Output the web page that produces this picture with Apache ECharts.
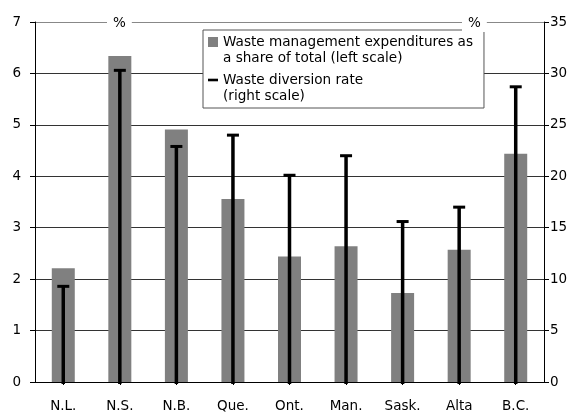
<!DOCTYPE html>
<html>
<head>
<meta charset="utf-8">
<script src="https://cdn.jsdelivr.net/npm/echarts@6/dist/echarts.min.js"></script>
<style>html,body{margin:0;padding:0;background:#fff}#c{width:577px;height:412px}</style>
</head>
<body>
<div id="c"></div>
<script>
const categories = ['N.L.', 'N.S.', 'N.B.', 'Que.', 'Ont.', 'Man.', 'Sask.', 'Alta', 'B.C.'];
const expenditureShare = [2.21, 6.34, 4.91, 3.56, 2.44, 2.64, 1.73, 2.57, 4.44];
const diversionRate = [9.3, 30.3, 22.9, 24.0, 20.1, 22.0, 15.6, 17.0, 28.7];
const leftTicks = [0, 1, 2, 3, 4, 5, 6, 7];
const rightTicks = [0, 5, 10, 15, 20, 25, 30, 35];
const barName = 'Waste management expenditures as\na share of total (left scale)';
const lineName = 'Waste diversion rate\n(right scale)';

const FONT = 'DejaVu Sans';
const chart = echarts.init(document.getElementById('c'), null, {renderer: 'canvas'});
const gridColors = ['#333', '#333', '#333', '#333', '#333', '#333', '#333', '#888'];
chart.setOption({
  animation: false,
  textStyle: {fontFamily: FONT},
  grid: {left: 35, right: 33, top: 22, bottom: 30, containLabel: false, outerBoundsMode: 'none'},
  xAxis: {
    type: 'category',
    data: categories,
    axisLine: {lineStyle: {color: '#000', width: 1}},
    axisTick: {show: true, alignWithLabel: true, length: 3, lineStyle: {color: '#000'}},
    axisLabel: {color: '#000', fontSize: 13.5, margin: 17, fontFamily: FONT}
  },
  yAxis: [{
    type: 'value', min: leftTicks[0], max: leftTicks[leftTicks.length - 1], interval: 1,
    axisLine: {show: true, lineStyle: {color: '#000'}},
    axisTick: {show: true, length: 5, lineStyle: {color: '#000'}},
    axisLabel: {color: '#000', fontSize: 13.5, margin: 14, fontFamily: FONT},
    splitLine: {show: true, lineStyle: {color: gridColors, width: 1}}
  }, {
    type: 'value', min: rightTicks[0], max: rightTicks[rightTicks.length - 1], interval: 5,
    position: 'right',
    axisLine: {show: true, lineStyle: {color: '#000'}},
    axisTick: {show: true, length: 5, lineStyle: {color: '#000'}},
    axisLabel: {color: '#000', fontSize: 13.5, margin: 6, fontFamily: FONT},
    splitLine: {show: false}
  }],
  legend: {
    orient: 'vertical',
    left: 203, top: 30,
    padding: [4, 11, 4, 5],
    itemGap: 6,
    itemWidth: 10, itemHeight: 32,
    backgroundColor: '#fff',
    borderColor: '#555', borderWidth: 1,
    selectedMode: false,
    textStyle: {color: '#000', fontSize: 13.6, lineHeight: 16, fontFamily: FONT},
    data: [
      {name: barName, icon: 'path://M0,3H10V13H0ZM0,0M0,32'},
      {name: lineName, icon: 'path://M0,6.7H10V9.3H0ZM0,0M0,32'}
    ]
  },
  graphic: [
    {type: 'text', left: 107, top: 14, style: {text: '%', fontSize: 13.5, fontFamily: FONT, fill: '#000', backgroundColor: '#fff', padding: [2, 6]}, z: 100},
    {type: 'text', left: 462, top: 14, style: {text: '%', fontSize: 13.5, fontFamily: FONT, fill: '#000', backgroundColor: '#fff', padding: [2, 6]}, z: 100}
  ],
  series: [{
    name: barName,
    type: 'bar',
    yAxisIndex: 0,
    data: expenditureShare,
    barWidth: 23,
    z: 2,
    itemStyle: {color: '#808080'}
  }, {
    name: lineName,
    type: 'custom',
    yAxisIndex: 1,
    z: 5,
    itemStyle: {color: '#000'},
    data: diversionRate.map((v, i) => [i, v]),
    renderItem: function (params, api) {
      const top = api.coord([api.value(0), api.value(1)]);
      const base = api.coord([api.value(0), 0]);
      return {
        type: 'group',
        children: [
          {type: 'line', shape: {x1: top[0], y1: top[1], x2: base[0], y2: base[1] + 2}, style: {stroke: '#000', lineWidth: 3.5}},
          {type: 'line', shape: {x1: top[0] - 6, y1: top[1], x2: top[0] + 6, y2: top[1]}, style: {stroke: '#000', lineWidth: 3}}
        ]
      };
    }
  }]
});
</script>
</body>
</html>
